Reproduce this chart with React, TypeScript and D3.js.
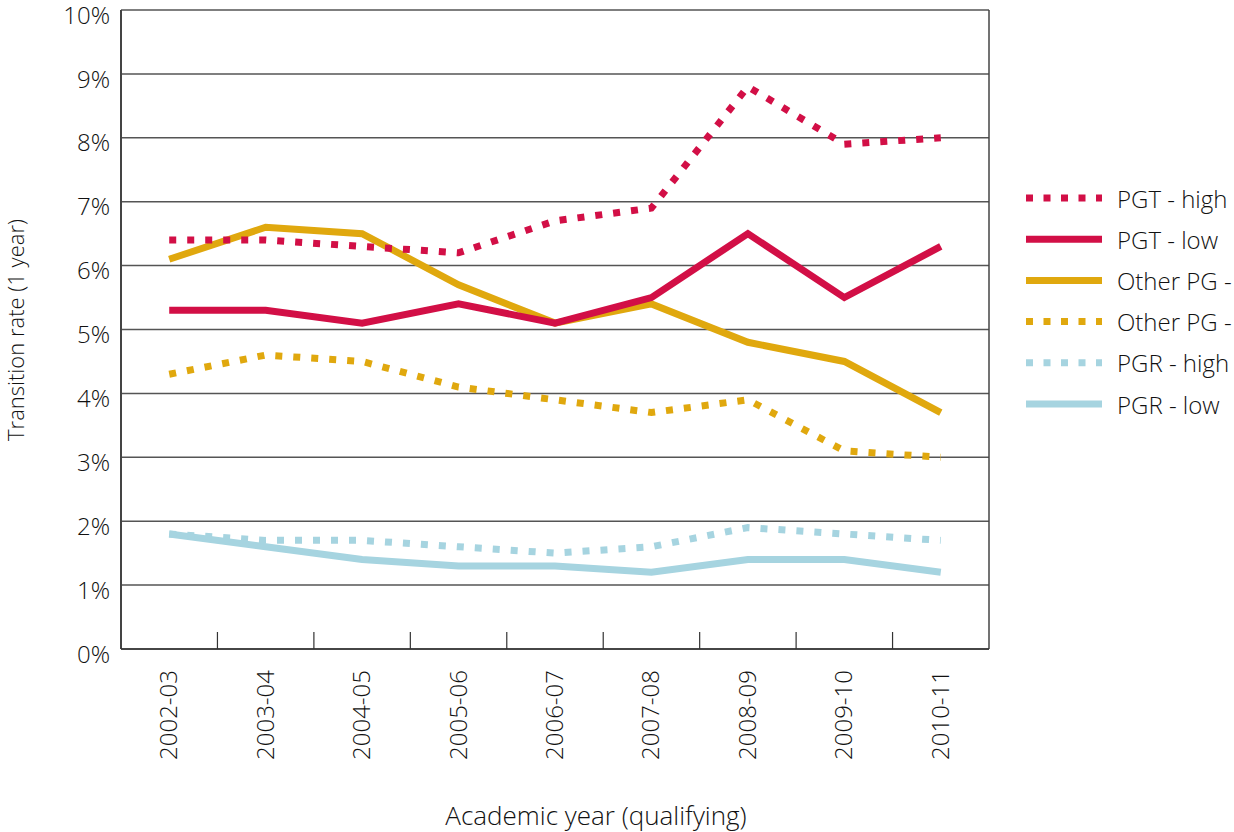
import React from 'react';
import * as d3 from 'd3';

const years = ['2002-03', '2003-04', '2004-05', '2005-06', '2006-07', '2007-08', '2008-09', '2009-10', '2010-11'];
const yTicks = [0, 1, 2, 3, 4, 5, 6, 7, 8, 9, 10];

const pgtHigh = [6.4, 6.4, 6.3, 6.2, 6.7, 6.9, 8.8, 7.9, 8.0];
const pgtLow = [5.3, 5.3, 5.1, 5.4, 5.1, 5.5, 6.5, 5.5, 6.3];
const otherPgSolid = [6.1, 6.6, 6.5, 5.7, 5.1, 5.4, 4.8, 4.5, 3.7];
const otherPgDotted = [4.3, 4.6, 4.5, 4.1, 3.9, 3.7, 3.9, 3.1, 3.0];
const pgrHigh = [1.8, 1.7, 1.7, 1.6, 1.5, 1.6, 1.9, 1.8, 1.7];
const pgrLow = [1.8, 1.6, 1.4, 1.3, 1.3, 1.2, 1.4, 1.4, 1.2];

const seriesNames = ['PGT - high', 'PGT - low', 'Other PG -', 'Other PG -', 'PGR - high', 'PGR - low'];
const seriesValues = [pgtHigh, pgtLow, otherPgSolid, otherPgDotted, pgrHigh, pgrLow];
const seriesColors = ['#d20f46', '#d20f46', '#e0a80e', '#e0a80e', '#a6d4e0', '#a6d4e0'];
const seriesDotted = [true, false, false, true, true, false];

const font = '"Open Sans", "Noto Sans", sans-serif';
const textColor = '#111';

export default function App() {
  const left = 121, right = 989, top = 10, bottom = 649;

  const x = d3.scaleBand<string>().domain(years).range([left, right]);
  const y = d3.scaleLinear().domain([0, 10]).range([bottom, top]);

  const line = d3.line<number>()
    .x((_, i) => (x(years[i]) as number) + x.bandwidth() / 2)
    .y(d => y(d));

  // paint order: draw lower ones first so the red sits over gold
  const order = [5, 4, 3, 2, 0, 1];

  return (
    <svg width={1234} height={832} style={{ position: 'absolute', left: 0, top: 0, background: '#fff' }}>
      {yTicks.map(t => (
        <g key={t}>
          <line x1={left} x2={right} y1={y(t)} y2={y(t)} stroke="#555" strokeWidth={1.5} />
          <text x={110} y={y(t) + 5} dy="0.36em" textAnchor="end" fontFamily={font} fontWeight={300}
            fontSize={24} fill={textColor}>
            {t}%
          </text>
        </g>
      ))}
      <line x1={left} x2={left} y1={top} y2={bottom} stroke="#444" strokeWidth={2} />
      <line x1={right} x2={right} y1={top} y2={bottom} stroke="#444" strokeWidth={1.5} />
      <line x1={left} x2={right} y1={bottom} y2={bottom} stroke="#333" strokeWidth={1.5} />

      {years.slice(1).map(yr => (
        <line key={yr} x1={x(yr)} x2={x(yr)} y1={bottom} y2={bottom - 17} stroke="#333" strokeWidth={1.2} />
      ))}

      {years.map(yr => {
        const cx = (x(yr) as number) + x.bandwidth() / 2;
        return (
          <text key={yr} transform={`translate(${cx + 8},670) rotate(-90)`} textAnchor="end"
            fontFamily={font} fontWeight={300} fontSize={24} fill={textColor}>
            {yr}
          </text>
        );
      })}

      {order.map(i => (
        <path key={i} d={line(seriesValues[i]) || ''} fill="none" stroke={seriesColors[i]}
          strokeWidth={7} strokeDasharray={seriesDotted[i] ? '7,11' : undefined} strokeLinejoin="miter" />
      ))}

      {seriesNames.map((name, i) => {
        const ly = 198 + i * 41.2;
        return (
          <g key={i}>
            <line x1={1026} x2={1102} y1={ly} y2={ly} stroke={seriesColors[i]} strokeWidth={7}
              strokeDasharray={seriesDotted[i] ? '7,10.5' : undefined} />
            <text x={1117} y={ly + 1} dy="0.36em" fontFamily={font} fontWeight={300} fontSize={24}
              fill={textColor}>{name}</text>
          </g>
        );
      })}

      <text transform="translate(24,330) rotate(-90)" textAnchor="middle" fontFamily={font} fontWeight={300}
        fontSize={22} fill={textColor}>
        Transition rate (1 year)
      </text>
      <text x={596} y={825} textAnchor="middle" fontFamily={font} fontWeight={300} fontSize={26} fill={textColor}>
        Academic year (qualifying)
      </text>
    </svg>
  );
}
